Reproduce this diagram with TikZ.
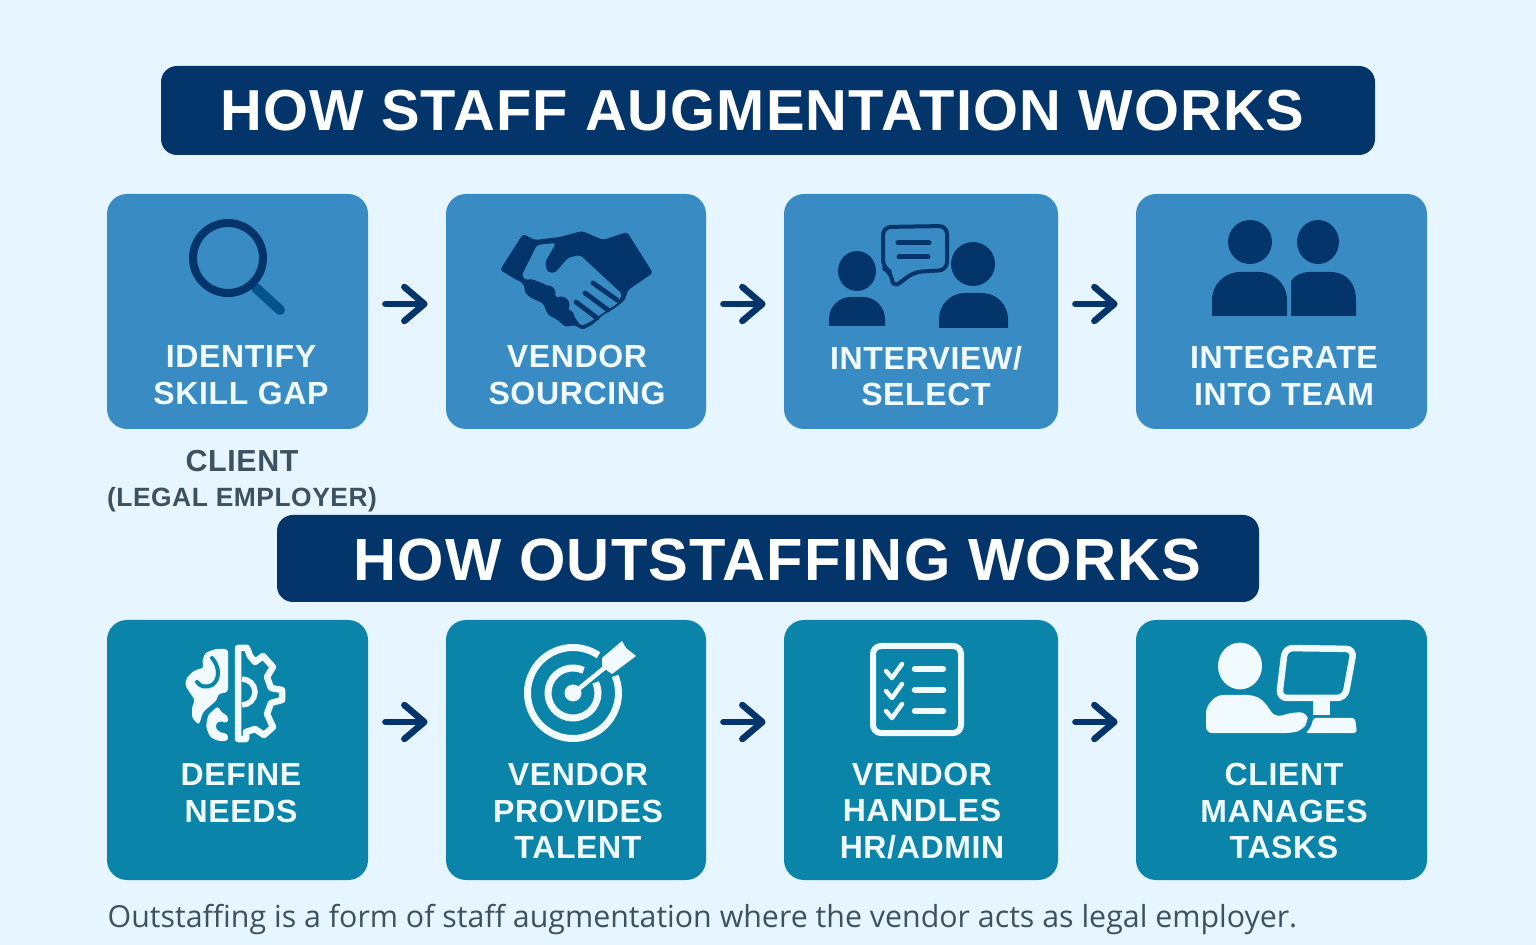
\documentclass[tikz,border=0pt]{standalone}
\usepackage{fontspec}
\setmainfont{Open Sans}
\newfontfamily\semifont[LetterSpace=2]{Liberation Sans}
\usetikzlibrary{calc,arrows.meta}
\definecolor{pagebg}{HTML}{E6F5FF}
\definecolor{navy}{HTML}{04356A}
\definecolor{handle}{HTML}{04538F}
\definecolor{boxblue}{HTML}{398CC3}
\definecolor{boxteal}{HTML}{0A84A8}
\definecolor{paper}{HTML}{F1FAFE}
\definecolor{slate}{HTML}{3C5260}
\def\ringarc[#1](#2,#3)(#4:#5:#6){\draw[#1] ($(#2,#3)+(#4:#6)$) arc (#4:#5:#6);}
\def\personbody[#1](#2,#3,#4,#5){\fill[rounded corners=#1] (#2,#5) -- (#2,#4) -- (#3,#4) -- (#3,#5);}
\tikzset{
	stepbox/.style={rounded corners=10pt,inner sep=0pt,minimum height=#1},
	bannerbox/.style={fill=navy,rounded corners=8pt,inner sep=0pt},
	bannertext/.style={text=white,inner sep=0pt},
	steplabel/.style={text=paper,align=center,inner sep=0pt,font=\fontsize{16}{18.4}\selectfont\semifont\bfseries},
	flowarrow/.style={navy,line width=3.25pt,line cap=round,shorten <=8.5pt,shorten >=9pt,-{Straight Barb[length=10pt,width=17pt,line width=3.25pt,round]}}
}
\begin{document}
\begin{tikzpicture}[x=0.5pt,y=-0.5pt]
	%%%%% START %%%%%
	\useasboundingbox (0,0) rectangle (1536,945);
	\fill[pagebg] (0,0) rectangle (1536,945);

	\node[bannerbox,minimum width=607pt,minimum height=44.5pt] (bannerA) at (768,110.5) {};
	\node[bannertext,font=\fontsize{28.9}{32}\selectfont\semifont\bfseries] (bannerAtext) at (762.5,111) {HOW STAFF AUGMENTATION WORKS};
	\node[bannerbox,minimum width=491pt,minimum height=43.5pt] (bannerB) at (768,558.5) {};
	\node[bannertext,font=\fontsize{29.8}{32}\selectfont\semifont\bfseries] (bannerBtext) at (777.5,560) {HOW OUTSTAFFING WORKS};

	% first row
	\node[stepbox=117.5pt,fill=boxblue,minimum width=130.5pt] (identify) at (237.5,311.5) {};
	\node[stepbox=117.5pt,fill=boxblue,minimum width=130pt] (sourcing) at (576,311.5) {};
	\node[stepbox=117.5pt,fill=boxblue,minimum width=137pt] (interview) at (921,311.5) {};
	\node[stepbox=117.5pt,fill=boxblue,minimum width=145.5pt] (integrate) at (1281.5,311.5) {};

	\node[steplabel] (identifytext) at (241,375) {IDENTIFY\\SKILL GAP};
	\node[steplabel] (sourcingtext) at (577,375) {VENDOR\\SOURCING};
	\node[steplabel] (interviewtext) at (926,376) {INTERVIEW/\\SELECT};
	\node[steplabel] (integratetext) at (1284,376) {INTEGRATE\\INTO TEAM};

	\draw[flowarrow] ([yshift=3.75pt]identify.east) -- ([yshift=3.75pt]sourcing.west);
	\draw[flowarrow] ([yshift=3.75pt]sourcing.east) -- ([yshift=3.75pt]interview.west);
	\draw[flowarrow] ([yshift=3.75pt]interview.east) -- ([yshift=3.75pt]integrate.west);

	\node[text=slate,align=center,inner sep=0pt,font=\fontsize{15.2}{17.5}\selectfont\semifont\bfseries] (clientnote) at (242,481) {CLIENT\\{\fontsize{13.2}{17.5}\selectfont (LEGAL EMPLOYER)}};

	% second row
	\node[stepbox=130pt,fill=boxteal,minimum width=130.5pt] (define) at (237.5,750) {};
	\node[stepbox=130pt,fill=boxteal,minimum width=130pt] (provides) at (576,750) {};
	\node[stepbox=130pt,fill=boxteal,minimum width=137pt] (handles) at (921,750) {};
	\node[stepbox=130pt,fill=boxteal,minimum width=145.5pt] (manages) at (1281.5,750) {};

	\node[steplabel] (definetext) at (241,793) {DEFINE\\NEEDS};
	\node[steplabel] (providestext) at (578,811) {VENDOR\\PROVIDES\\TALENT};
	\node[steplabel] (handlestext) at (922,811) {VENDOR\\HANDLES\\HR/ADMIN};
	\node[steplabel] (managestext) at (1284,811) {CLIENT\\MANAGES\\TASKS};

	\draw[flowarrow] ([yshift=14pt]define.east) -- ([yshift=14pt]provides.west);
	\draw[flowarrow] ([yshift=14pt]provides.east) -- ([yshift=14pt]handles.west);
	\draw[flowarrow] ([yshift=14pt]handles.east) -- ([yshift=14pt]manages.west);

	\node[text=slate,inner sep=0pt,font=\fontsize{15.17}{18}\selectfont] (footnote) at (702.5,919.5) {Outstaffing is a form of staff augmentation where the vendor acts as legal employer.};

	% magnifier
	\draw[handle,line width=5pt,line cap=round] (256,288) -- (280,310);
	\draw[navy,line width=4pt] (228,258) circle (17.5pt);

	% handshake
	\fill[navy,rounded corners=1.5pt] (523,234) -- (535,240) -- (560,237) -- (582,231) -- (603,240) -- (627,232) -- (653,273) -- (628,290) -- (625,300) -- (615,308) -- (603,315) -- (592,325) -- (582,330) -- (575,325) -- (565,327) -- (558,320) -- (548,315) -- (543,303) -- (535,300) -- (527,295) -- (523,283) -- (515,279) -- (500,270) -- cycle;
	\fill[boxblue,rounded corners=1.5pt] (537,245) -- (556,243) -- (545,262) -- (547,272) -- (555,273) -- (568,258) -- (580,255) -- (622,294) -- (618,303) -- (603,313) -- (590,322) -- (581,326) -- (570,310) -- (555,295) -- (547,285) -- (532,279) -- (525,280) -- (522,275) -- cycle;
	\fill[navy] (532,289) circle (3.75pt) (548,293) circle (3.75pt) (561,305) circle (4.25pt) (567,317) circle (3.75pt);
	\draw[navy,line width=2.4pt,line cap=round] (593,283) -- (617,300) (585,293) -- (608,310) (576,302) -- (597,318);

	% people with speech bubble
	\begin{scope}[navy]
		\fill (857,271) ellipse (9.5pt and 10pt);
		\personbody[11pt](829,885,297,326)
		\fill (973,264) ellipse (11pt and 11pt);
		\personbody[13pt](939,1008,293,328)
	\end{scope}
	\draw[navy,fill=boxblue,line width=2pt,line join=round,rounded corners=4pt] (883,227) -- (947,226) -- (947,270) -- (914,272) -- (893,288) -- (891,272) -- (883,268) -- cycle;
	\draw[navy,line width=2.5pt,line cap=round] (898,243) -- (929,243) (899,257) -- (928,257);

	% two people
	\begin{scope}[navy]
		\fill (1250,242) ellipse (11pt and 11pt);
		\personbody[14pt](1212,1287,272,316)
		\fill (1318,242) ellipse (10.5pt and 11pt);
		\fill (1291,316) -- (1291,281) .. controls (1295,275) and (1302,272) .. (1310,272) -- (1330,272) .. controls (1348,272) and (1356,285) .. (1356,300) -- (1356,316) -- cycle;
	\end{scope}

	% brain and gear
	\fill[paper,rounded corners=1.5pt] (228,649) -- (215,649) -- (205,653) -- (202,662) -- (204,668) -- (195,670) -- (187,677) -- (185,685) -- (190,693) -- (195,700) -- (192,707) -- (192,718) -- (199,725) -- (203,712) -- (217,700) -- (218,694) -- (228,692) -- cycle;
	\draw[boxteal,line width=2pt,line cap=round] (212,658) .. controls (220,667) and (220,680) .. (212,685) .. controls (207,688) and (200,687) .. (197,682);
	\fill[paper,rounded corners=1.5pt] (218,706) -- (208,715) -- (206,727) -- (210,737) -- (218,741) -- (228,741) -- (228,734) -- (219,732) -- (215,727) -- (218,721) -- (228,723) -- (228,716) -- (221,712) -- cycle;
	\draw[paper,line width=3.25pt,line join=round] (238,648) -- (247,648) -- (250,656) -- (255,662) -- (263,656) -- (273,667) -- (267,677) -- (271,688) -- (282,690) -- (282,700) -- (271,703) -- (267,714) -- (273,727) -- (264,735) -- (255,729) -- (246,732) -- (246,739) -- (238,739) -- cycle;
	\ringarc[paper,line width=2.75pt](242,692)(-90:90:6.5pt)

	% target
	\ringarc[paper,line width=3.5pt](573,693)(56:382:22.75pt)
	\ringarc[paper,line width=3.5pt](573,693)(65:385:12.5pt)
	\fill[paper] (573,693) circle (4.25pt);
	\draw[paper,line width=2.25pt] (576,691) -- (608,665);
	\fill[paper] (602,658) -- (622,641) -- (626,648) -- (636,656) -- (612,674) -- (602,667) -- cycle;

	% checklist
	\draw[paper,line width=3pt,rounded corners=4pt] (873,646) rectangle (961,733);
	\foreach \rowy/\bary in {672/669,692/690,712/711}{
		\draw[paper,line width=2.25pt,line cap=round,line join=round] (886,\rowy-1) -- (892,\rowy+6) -- (902,\rowy-8);
		\draw[paper,line width=3.25pt,line cap=round] (915,\bary) -- (943,\bary);
	}

	% client at monitor
	\fill[paper] (1240,666) ellipse (11pt and 11.7pt);
	\fill[paper,rounded corners=3pt] (1206,733) -- (1206,707) -- (1217,695) -- (1253,695) -- (1263,700) -- (1275,717) -- (1295,712) -- (1307,713) -- (1308,722) -- (1302,730) -- (1292,733) -- cycle;
	\draw[paper,line width=3.25pt,rounded corners=4pt] (1285,648) -- (1354,649) -- (1345,698) -- (1279,698) -- cycle;
	\fill[paper] (1313,700) rectangle (1330,715);
	\fill[paper,rounded corners=1.5pt] (1305,733) .. controls (1309,730) and (1312,725) .. (1313,718) -- (1355,718) -- (1357,733) -- cycle;
	%%%%% END %%%%%
\end{tikzpicture}
\end{document}
